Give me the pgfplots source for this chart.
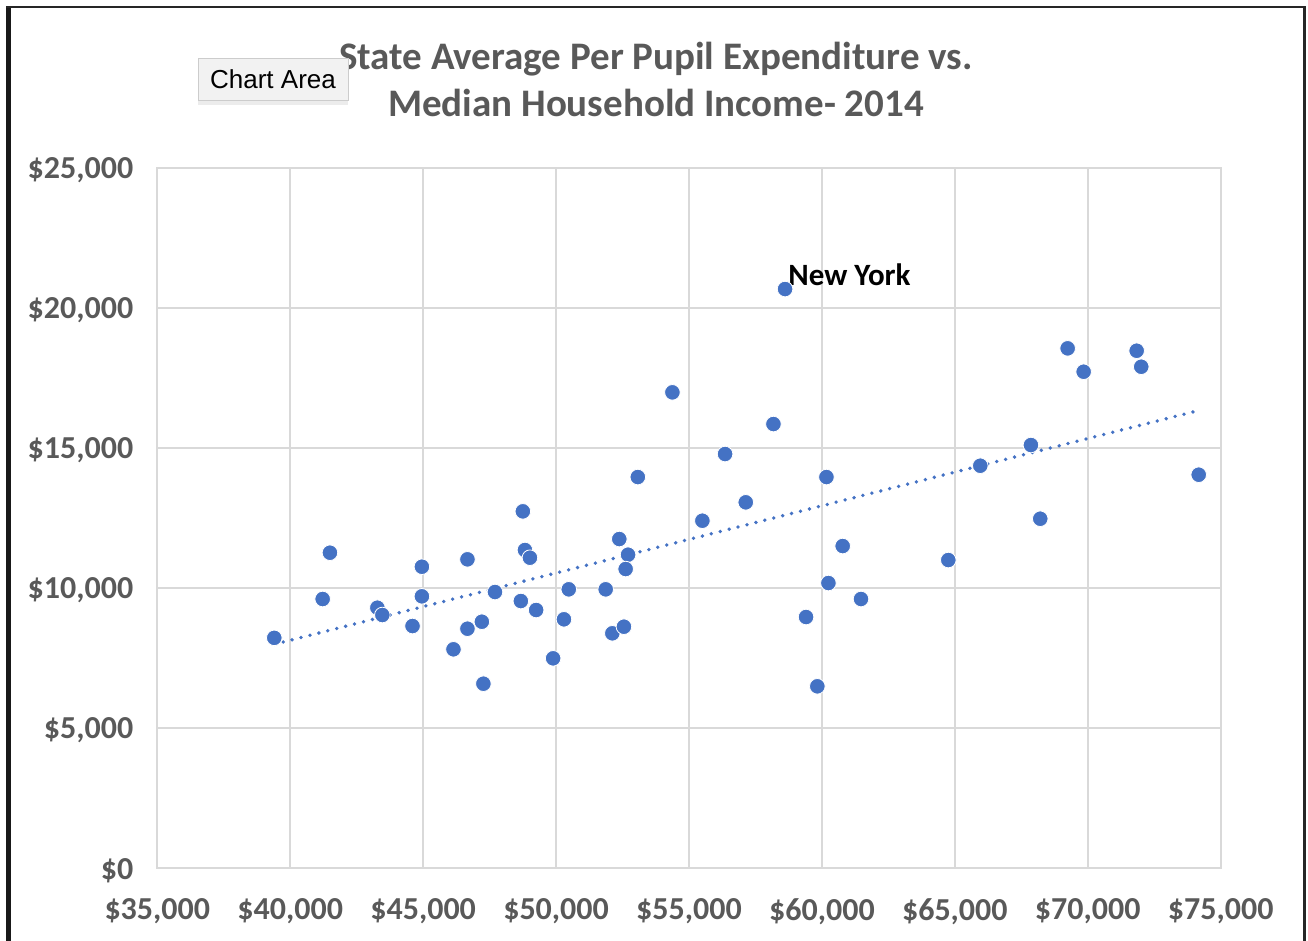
\documentclass[border=0pt]{standalone}
\usepackage{fontspec}
\setmainfont{Carlito}
\newfontfamily\tipfont{Liberation Sans}
\usepackage{pgfplots}
\pgfplotsset{compat=1.18}
\usetikzlibrary{shadows}
\definecolor{pt}{HTML}{4472C4}
\definecolor{lbl}{HTML}{595959}
\definecolor{grd}{HTML}{D9D9D9}

\begin{document}
\begin{tikzpicture}[x=1pt,y=1pt]
\useasboundingbox (0,0) rectangle (654,470.5);
\begin{axis}[
 at={(78.65pt,36.35pt)}, anchor=south west,
 scale only axis, width=531.7pt, height=350pt,
 xmin=35000, xmax=75000, ymin=0, ymax=25000,
 xtick={35000,40000,...,75000}, ytick={0,5000,...,25000},
 scaled ticks=false,
 /pgf/number format/.cd, fixed, precision=0, 1000 sep={,}, assume math mode=true, /pgfplots/.cd,
 xticklabel={\$\pgfmathprintnumber{\tick}},
 yticklabel={\$\pgfmathprintnumber{\tick}},
 ticklabel style={font=\fontsize{16}{18}\selectfont\bfseries, text=lbl},
 xticklabel style={yshift=-11.5pt},
 yticklabel style={xshift=-8.5pt, yshift=-1pt},
 major tick length=0pt,
 grid=major, grid style={grd, line width=1pt},
 axis line style={grd, line width=1pt},
 clip=false,
]
\addplot[pt, line width=1.9pt, line cap=round, dash pattern=on 0pt off 4.6pt] coordinates {(39400,8000) (74170,16350)};
\addplot[only marks, mark=*, mark size=3.9pt, mark options={fill=pt, draw=white, line width=0.4pt}] table {
x y
39400 8230
41220 9617
41494 11270
43278 9306
43465 9046
44600 8652
44953 9713
44953 10770
46140 7821
46666 11034
46666 8556
47208 8806
47266 6592
47702 9867
48675 9545
48750 12748
48829 11367
49017 11092
49250 9224
49889 7499
50296 8892
50478 9963
51866 9963
52116 8392
52552 8628
52378 11759
52708 11199
52617 10688
53075 13973
54376 16998
55503 12413
56357 14795
57135 13070
58176 15866
58613 20687
59403 8974
59827 6499
60170 13973
60244 10188
60781 11509
61470 9617
64754 11009
65957 14377
67862 15116
68212 12484
69243 18569
69845 17734
71839 18484
72011 17912
74173 14056
};
\node[anchor=base west, font=\fontsize{15.5}{18}\selectfont\bfseries, text=black, xshift=1.5pt, yshift=1.8pt, inner sep=0pt] at (axis cs:58613,20687) {New York};
\end{axis}
\node[anchor=base, text=lbl, font=\fontsize{19.5}{23}\selectfont\bfseries] at (328,435.5) {State Average Per Pupil Expenditure vs.};
\node[anchor=base, text=lbl, font=\fontsize{19.5}{23}\selectfont\bfseries] at (328,412) {Median Household Income- 2014};
\node[draw=black!20, fill=black!5, drop shadow={opacity=0.15, shadow xshift=0pt, shadow yshift=-2.5pt}, minimum width=75pt, minimum height=21pt, inner sep=0pt, font=\tipfont\fontsize{13}{15}\selectfont] at (136.5,431) {Chart Area};
\draw[line width=2.5pt, black!90] (4.25,-2) -- (4.25,467.6);
\draw[line width=1.2pt, black!85] (3,467) -- (652.8,467);
\draw[line width=1.5pt, black!85] (652,467) -- (652,-2);
\end{tikzpicture}
\end{document}
